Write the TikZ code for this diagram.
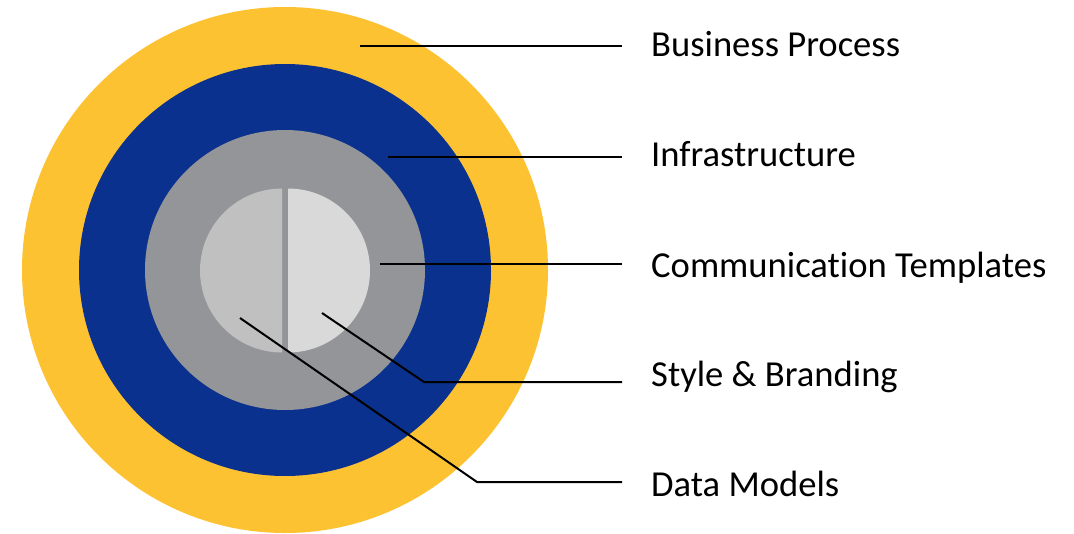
\documentclass[tikz,border=0pt]{standalone}
\usepackage{fontspec}
\setmainfont{Carlito}[Ligatures=NoCommon]
\definecolor{ringgold}{HTML}{FDC232}
\definecolor{ringblue}{HTML}{0A318D}
\definecolor{ringgray}{HTML}{939598}
\definecolor{coreleft}{HTML}{C0C0C0}
\definecolor{coreright}{HTML}{D9D9D9}
\tikzset{
  leader/.style={line width=2pt, draw=black, line cap=butt, line join=miter},
  layerlabel/.style={anchor=base west, inner sep=0pt, font=\fontsize{36.6}{36.6}\selectfont},
}

\begin{document}
\begin{tikzpicture}[x=1pt, y=-1pt]
\useasboundingbox (0,0) rectangle (1074,533);
% rings, outside in
\fill[ringgold] (285,270) circle (263);
\fill[ringblue] (285,270) circle (206);
\fill[ringgray] (285,270) circle (140);
% split core
\fill[coreleft] (282,270.5) -- +(0,82) arc[start angle=90, end angle=270, radius=82] -- cycle;
\fill[coreright] (288,270.5) -- +(0,-82) arc[start angle=-90, end angle=90, radius=82] -- cycle;

% labels
\node[layerlabel] (business) at (651,56) {Business Process};
\node[layerlabel] (infra) at (651,166) {Infrastructure};
\node[layerlabel] (comms) at (651,277) {Communication Templates};
\node[layerlabel] (style) at (651,386.5) {Style \& Branding};
\node[layerlabel] (data) at (651,496) {Data Models};

% leader points
\coordinate (businessin) at (360,46);
\coordinate (businessout) at (622,46);
\coordinate (infrain) at (388,157);
\coordinate (infraout) at (622,157);
\coordinate (commsin) at (380,264);
\coordinate (commsout) at (622,264);
\coordinate (stylein) at (322,313);
\coordinate (stylebend) at (424,382);
\coordinate (styleout) at (622,382);
\coordinate (datain) at (240,318);
\coordinate (databend) at (477,482);
\coordinate (dataout) at (622,482);

\draw[leader] (businessin) -- (businessout);
\draw[leader] (infrain) -- (infraout);
\draw[leader] (commsin) -- (commsout);
\draw[leader] (stylein) -- (stylebend) -- (styleout);
\draw[leader] (datain) -- (databend) -- (dataout);
\end{tikzpicture}
\end{document}
